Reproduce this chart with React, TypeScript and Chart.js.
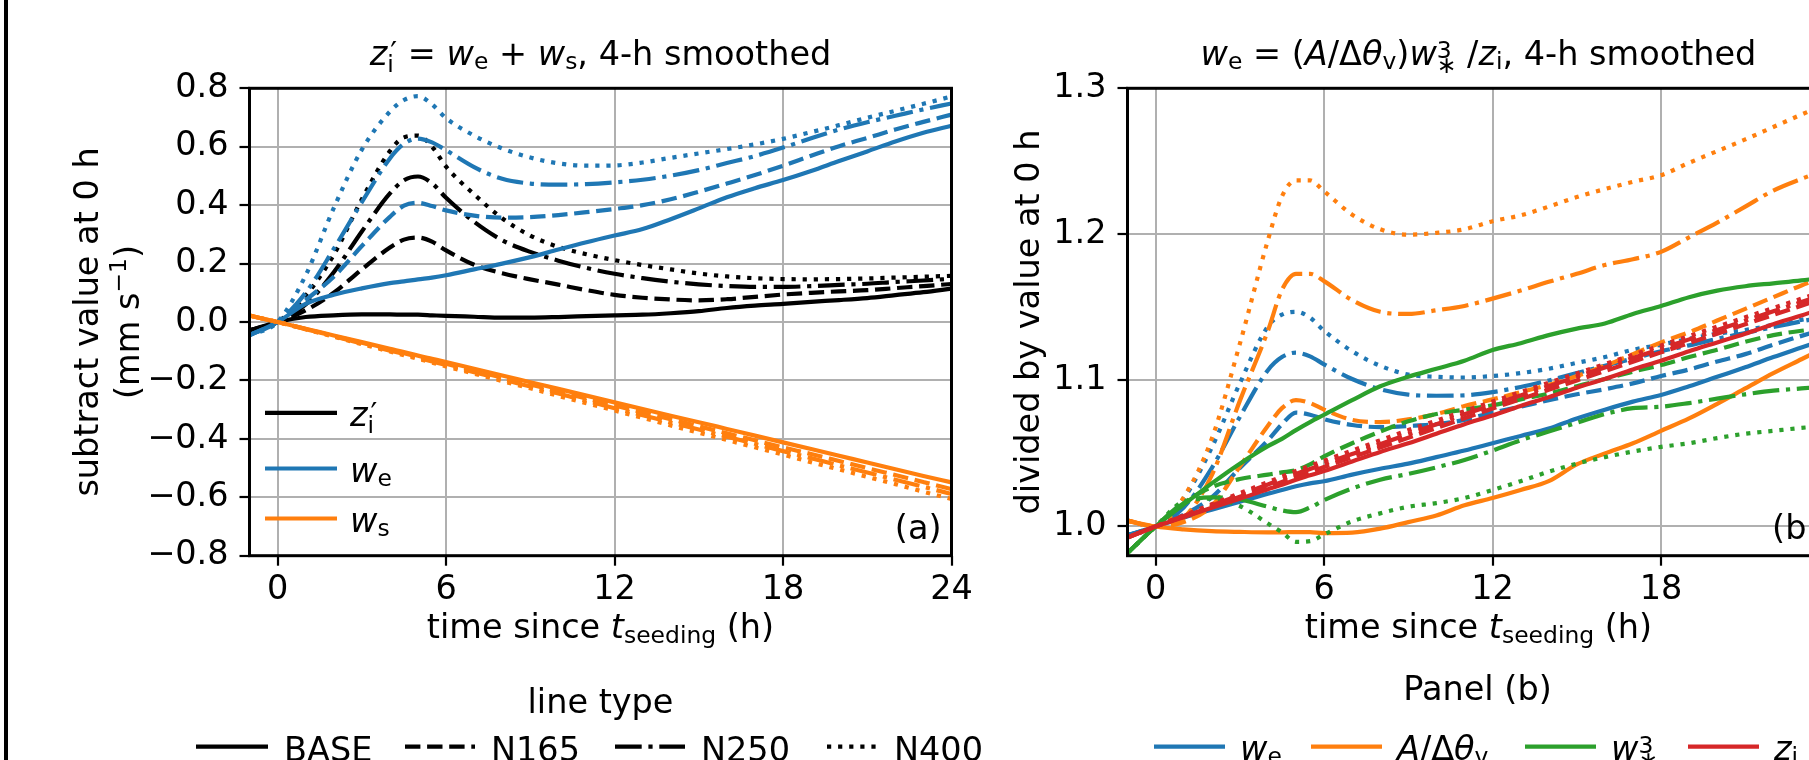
import React, { useEffect, useRef } from 'react';
import { Chart, registerables } from 'chart.js';

Chart.register(...registerables);

// ---------------- data ----------------
const T = [-1, 0, 1, 2, 3, 4, 4.5, 5, 5.5, 6, 7, 8, 9, 10, 11, 12, 13, 14, 15, 16, 17, 18, 19, 20, 21, 22, 23, 24];

const X_TICKS = [0, 6, 12, 18, 24];
const YA_TICKS = [-0.8, -0.6, -0.4, -0.2, 0, 0.2, 0.4, 0.6, 0.8];
const YB_TICKS = [1.0, 1.1, 1.2, 1.3];
const CASES = ['BASE', 'N165', 'N250', 'N400'];

// panel (a): z_i'
const ZP_BASE = [-0.029, 0, 0.017, 0.023, 0.026, 0.026, 0.025, 0.025, 0.023, 0.021, 0.018, 0.015, 0.015, 0.017, 0.02, 0.023, 0.025, 0.03, 0.037, 0.048, 0.056, 0.062, 0.069, 0.075, 0.082, 0.092, 0.102, 0.114];
const ZP_N165 = [-0.029, 0, 0.04, 0.1, 0.18, 0.255, 0.282, 0.289, 0.275, 0.245, 0.196, 0.167, 0.146, 0.128, 0.109, 0.093, 0.083, 0.077, 0.074, 0.078, 0.086, 0.094, 0.1, 0.105, 0.109, 0.116, 0.123, 0.13];
const ZP_N250 = [-0.029, 0, 0.06, 0.17, 0.31, 0.44, 0.485, 0.498, 0.475, 0.425, 0.343, 0.28, 0.24, 0.21, 0.185, 0.165, 0.15, 0.138, 0.129, 0.123, 0.12, 0.12, 0.123, 0.127, 0.131, 0.137, 0.142, 0.148];
const ZP_N400 = [-0.029, 0, 0.09, 0.23, 0.42, 0.585, 0.632, 0.638, 0.6, 0.532, 0.437, 0.355, 0.296, 0.257, 0.232, 0.212, 0.195, 0.18, 0.166, 0.156, 0.15, 0.147, 0.146, 0.147, 0.149, 0.152, 0.155, 0.158];
// panel (a): w_e
const WEA_BASE = [-0.045, 0, 0.062, 0.093, 0.115, 0.133, 0.139, 0.146, 0.152, 0.16, 0.18, 0.2, 0.222, 0.248, 0.273, 0.296, 0.318, 0.352, 0.389, 0.427, 0.458, 0.486, 0.517, 0.551, 0.584, 0.618, 0.648, 0.672];
const WEA_N165 = [-0.045, 0, 0.075, 0.155, 0.26, 0.36, 0.398, 0.408, 0.397, 0.382, 0.364, 0.357, 0.359, 0.366, 0.376, 0.387, 0.4, 0.42, 0.446, 0.474, 0.503, 0.535, 0.569, 0.602, 0.63, 0.659, 0.685, 0.71];
const WEA_N250 = [-0.045, 0, 0.1, 0.25, 0.41, 0.56, 0.61, 0.628, 0.615, 0.588, 0.53, 0.49, 0.474, 0.47, 0.472, 0.478, 0.487, 0.501, 0.52, 0.544, 0.568, 0.597, 0.629, 0.659, 0.684, 0.706, 0.728, 0.748];
const WEA_N400 = [-0.045, 0, 0.16, 0.39, 0.59, 0.72, 0.76, 0.773, 0.745, 0.698, 0.638, 0.594, 0.563, 0.543, 0.535, 0.536, 0.546, 0.562, 0.577, 0.592, 0.608, 0.627, 0.65, 0.674, 0.699, 0.723, 0.747, 0.772];
// panel (a): w_s
const WS_BASE = [0.022, 0, -0.023, -0.046, -0.069, -0.092, -0.103, -0.115, -0.126, -0.137, -0.16, -0.183, -0.206, -0.229, -0.252, -0.275, -0.298, -0.321, -0.343, -0.366, -0.389, -0.412, -0.435, -0.458, -0.481, -0.504, -0.527, -0.549];
const WS_N165 = [0.022, 0, -0.024, -0.048, -0.071, -0.095, -0.107, -0.119, -0.131, -0.143, -0.167, -0.19, -0.214, -0.238, -0.262, -0.286, -0.309, -0.333, -0.357, -0.381, -0.405, -0.429, -0.452, -0.476, -0.5, -0.524, -0.548, -0.572];
const WS_N250 = [0.022, 0, -0.0245, -0.049, -0.074, -0.098, -0.11, -0.123, -0.135, -0.147, -0.172, -0.196, -0.221, -0.245, -0.27, -0.295, -0.319, -0.344, -0.368, -0.393, -0.417, -0.442, -0.466, -0.491, -0.515, -0.54, -0.564, -0.589];
const WS_N400 = [0.022, 0, -0.025, -0.05, -0.076, -0.101, -0.114, -0.126, -0.139, -0.152, -0.177, -0.202, -0.227, -0.253, -0.278, -0.303, -0.328, -0.354, -0.379, -0.404, -0.429, -0.454, -0.48, -0.505, -0.53, -0.555, -0.581, -0.606];

// panel (b): w_e
const WEB_BASE = [0.994, 1.0, 1.006, 1.0115, 1.017, 1.0225, 1.025, 1.0275, 1.0295, 1.031, 1.0355, 1.0395, 1.043, 1.0475, 1.052, 1.057, 1.062, 1.067, 1.074, 1.08, 1.0855, 1.09, 1.096, 1.1025, 1.109, 1.116, 1.1225, 1.129];
const WEB_N165 = [0.994, 1.0, 1.008, 1.02, 1.04, 1.059, 1.07, 1.078, 1.0765, 1.0735, 1.0695, 1.068, 1.0688, 1.07, 1.073, 1.078, 1.082, 1.0865, 1.0905, 1.094, 1.098, 1.103, 1.1075, 1.113, 1.118, 1.1245, 1.1305, 1.136];
const WEB_N250 = [0.994, 1.0, 1.013, 1.04, 1.075, 1.107, 1.116, 1.119, 1.1165, 1.111, 1.101, 1.094, 1.0903, 1.0895, 1.0898, 1.092, 1.0955, 1.1, 1.105, 1.11, 1.115, 1.12, 1.124, 1.1285, 1.1325, 1.1365, 1.1405, 1.144];
const WEB_N400 = [0.994, 1.0, 1.019, 1.054, 1.098, 1.137, 1.145, 1.147, 1.143, 1.134, 1.12, 1.11, 1.104, 1.1025, 1.102, 1.103, 1.105, 1.108, 1.112, 1.116, 1.121, 1.1245, 1.1285, 1.132, 1.1345, 1.138, 1.1415, 1.145];
// panel (b): A / delta theta_v
const ADT_BASE = [1.004, 1.0, 0.998, 0.9968, 0.9963, 0.996, 0.996, 0.9962, 0.9962, 0.9955, 0.9958, 0.9985, 1.003, 1.0075, 1.0145, 1.0195, 1.025, 1.031, 1.0425, 1.05, 1.057, 1.0655, 1.074, 1.084, 1.0945, 1.105, 1.1145, 1.124];
const ADT_N165 = [1.004, 1.0, 1.003, 1.014, 1.041, 1.069, 1.081, 1.0865, 1.0845, 1.08, 1.073, 1.0715, 1.0733, 1.077, 1.0825, 1.087, 1.092, 1.097, 1.103, 1.11, 1.118, 1.126, 1.133, 1.141, 1.149, 1.157, 1.165, 1.172];
const ADT_N250 = [1.004, 1.0, 1.006, 1.035, 1.086, 1.134, 1.162, 1.173, 1.173, 1.168, 1.155, 1.147, 1.1455, 1.148, 1.151, 1.156, 1.1615, 1.1675, 1.173, 1.179, 1.183, 1.188, 1.198, 1.208, 1.219, 1.23, 1.238, 1.245];
const ADT_N400 = [1.004, 1.0, 1.02, 1.06, 1.125, 1.196, 1.226, 1.237, 1.237, 1.2295, 1.2135, 1.2035, 1.1998, 1.201, 1.2035, 1.209, 1.213, 1.219, 1.2255, 1.231, 1.236, 1.2405, 1.249, 1.257, 1.265, 1.2735, 1.282, 1.29];
// panel (b): w_*^3
const W3_BASE = [0.9818, 1.0, 1.015, 1.0295, 1.043, 1.055, 1.06, 1.066, 1.0715, 1.0765, 1.0865, 1.096, 1.1025, 1.108, 1.1135, 1.1208, 1.1255, 1.131, 1.1355, 1.139, 1.1455, 1.151, 1.157, 1.1615, 1.1645, 1.1665, 1.1685, 1.171];
const W3_N165 = [0.9818, 1.0, 1.016, 1.027, 1.0325, 1.0355, 1.037, 1.0385, 1.0425, 1.048, 1.057, 1.065, 1.072, 1.077, 1.08, 1.083, 1.087, 1.091, 1.096, 1.101, 1.106, 1.1105, 1.116, 1.121, 1.1265, 1.131, 1.134, 1.136];
const W3_N250 = [0.9818, 1.0, 1.016, 1.02, 1.0185, 1.0135, 1.011, 1.0098, 1.013, 1.018, 1.026, 1.032, 1.036, 1.0405, 1.0455, 1.052, 1.059, 1.065, 1.071, 1.077, 1.081, 1.082, 1.0845, 1.0875, 1.0905, 1.093, 1.0945, 1.096];
const W3_N400 = [0.9818, 1.0, 1.017, 1.019, 1.014, 1.002, 0.996, 0.9895, 0.99, 0.9945, 1.0035, 1.009, 1.0135, 1.016, 1.0195, 1.025, 1.031, 1.0375, 1.043, 1.0475, 1.0513, 1.0545, 1.057, 1.0605, 1.0635, 1.0655, 1.0675, 1.069];
// panel (b): z_i
const ZI_BASE = [0.9925, 1.0, 1.0064, 1.0128, 1.019, 1.0255, 1.0285, 1.032, 1.035, 1.038, 1.0445, 1.051, 1.057, 1.0635, 1.07, 1.076, 1.0825, 1.0885, 1.095, 1.101, 1.1075, 1.1135, 1.12, 1.126, 1.132, 1.1385, 1.1445, 1.151];
const ZI_N165 = [0.9925, 1.0, 1.0068, 1.0135, 1.0203, 1.027, 1.0305, 1.034, 1.0373, 1.0407, 1.0474, 1.0541, 1.0607, 1.0674, 1.0741, 1.0808, 1.0872, 1.0936, 1.1, 1.1064, 1.1128, 1.1192, 1.1256, 1.132, 1.1384, 1.1448, 1.1512, 1.1576];
const ZI_N250 = [0.9925, 1.0, 1.0072, 1.0144, 1.0216, 1.0288, 1.0324, 1.036, 1.0394, 1.0428, 1.0496, 1.0564, 1.0632, 1.07, 1.0768, 1.0833, 1.0897, 1.0961, 1.1025, 1.1089, 1.1153, 1.1217, 1.1281, 1.1345, 1.1409, 1.1473, 1.1537, 1.1601];
const ZI_N400 = [0.9925, 1.0, 1.0076, 1.0152, 1.0228, 1.0304, 1.0342, 1.038, 1.0415, 1.045, 1.052, 1.059, 1.066, 1.0725, 1.079, 1.0855, 1.092, 1.0984, 1.1048, 1.1112, 1.1176, 1.124, 1.1304, 1.1368, 1.1432, 1.1496, 1.156, 1.1624];

// ---------------- styles ----------------
const BLACK = '#000000';
const BLUE = '#1f77b4';
const ORANGE = '#ff7f0e';
const GREEN = '#2ca02c';
const RED = '#d62728';
const LW = 4.2;
const DASHES = [[], [15.4, 6.7], [26.7, 6.7, 4.2, 6.7], [4.2, 6.9]];
const FS = 33.5;
const FAMILY = '"DejaVu Sans"';
const TOP = 88.3;
const BOTTOM = 555.7;
const XH = 100;

type Seg = { t: string; it?: boolean; pos?: 'sub' | 'sup'; ov?: boolean; dy?: number; dx?: number; sc?: number };

function fontStr(size: number, it?: boolean) {
  return `${it ? 'italic ' : ''}${size}px ${FAMILY}`;
}

function drawRich(ctx: CanvasRenderingContext2D, segs: Seg[], x: number, y: number, align: 'left' | 'center' | 'right', size = FS) {
  const placed: { s: Seg; sx: number; sz: number; dy: number }[] = [];
  let cur = 0;
  let prevStart = 0;
  for (const s of segs) {
    const sz = size * (s.sc !== undefined ? s.sc : s.pos ? 0.7 : 1);
    ctx.font = fontStr(sz, s.it);
    const w = ctx.measureText(s.t).width;
    const sx = (s.ov ? prevStart : cur) + (s.dx || 0) * size;
    cur = Math.max(cur, sx + w);
    prevStart = sx;
    const dyEm = s.dy !== undefined ? s.dy : s.pos === 'sub' ? 0.13 : s.pos === 'sup' ? -0.3 : 0;
    placed.push({ s, sx, sz, dy: dyEm * size });
  }
  const x0 = align === 'left' ? x : align === 'center' ? x - cur / 2 : x - cur;
  ctx.textAlign = 'left';
  ctx.textBaseline = 'alphabetic';
  ctx.fillStyle = '#000';
  for (const p of placed) {
    ctx.font = fontStr(p.sz, p.s.it);
    ctx.fillText(p.s.t, x0 + p.sx, y + p.dy);
  }
  return cur;
}

function legLine(ctx: CanvasRenderingContext2D, x1: number, x2: number, y: number, color: string, dash: number[]) {
  ctx.save();
  ctx.strokeStyle = color;
  ctx.lineWidth = LW;
  ctx.lineCap = 'butt';
  ctx.setLineDash(dash);
  ctx.beginPath();
  ctx.moveTo(x1, y);
  ctx.lineTo(x2, y);
  ctx.stroke();
  ctx.restore();
}

const ZPRIME: Seg[] = [
  { t: 'z', it: true }, { t: 'i', pos: 'sub', dy: 0.21 }, { t: '′', ov: true, sc: 0.9, dy: -0.06, dx: 0.09 },
];
const TITLE_A: Seg[] = [
  ...ZPRIME,
  { t: ' = ' }, { t: 'w', it: true }, { t: 'e', pos: 'sub' }, { t: ' + ' }, { t: 'w', it: true }, { t: 's', pos: 'sub' },
  { t: ', 4-h smoothed' },
];
const TITLE_B: Seg[] = [
  { t: 'w', it: true }, { t: 'e', pos: 'sub' }, { t: ' = (' }, { t: 'A', it: true }, { t: '/Δ' }, { t: 'θ', it: true },
  { t: 'v', pos: 'sub' }, { t: ')' }, { t: 'w', it: true }, { t: '∗', pos: 'sub', dy: 0.25 }, { t: '3', pos: 'sup', ov: true, dy: -0.2 },
  { t: ' /' }, { t: 'z', it: true }, { t: 'i', pos: 'sub' }, { t: ', 4-h smoothed' },
];
const XLABEL: Seg[] = [{ t: 'time since ' }, { t: 't', it: true }, { t: 'seeding', pos: 'sub', dy: 0.15 }, { t: ' (h)' }];
const YLABEL_A1: Seg[] = [{ t: 'subtract value at 0 h' }];
const YLABEL_A2: Seg[] = [{ t: '(mm s' }, { t: '−1', pos: 'sup', dy: -0.38 }, { t: ')' }];
const YLABEL_B: Seg[] = [{ t: 'divided by value at 0 h' }];

const LEG_ZP: Seg[] = ZPRIME;
const LEG_WE: Seg[] = [{ t: 'w', it: true }, { t: 'e', pos: 'sub' }];
const LEG_WS: Seg[] = [{ t: 'w', it: true }, { t: 's', pos: 'sub' }];
const LEG_ADT: Seg[] = [{ t: 'A', it: true }, { t: '/Δ' }, { t: 'θ', it: true }, { t: 'v', pos: 'sub' }];
const LEG_W3: Seg[] = [{ t: 'w', it: true }, { t: '∗', pos: 'sub', dy: 0.25 }, { t: '3', pos: 'sup', ov: true, dy: -0.2 }];
const LEG_ZI: Seg[] = [{ t: 'z', it: true }, { t: 'i', pos: 'sub' }];

function frame(ctx: CanvasRenderingContext2D, a: any) {
  ctx.save();
  ctx.strokeStyle = '#000';
  ctx.lineWidth = 3;
  ctx.setLineDash([]);
  ctx.strokeRect(a.left, a.top, a.right - a.left, a.bottom - a.top);
  ctx.restore();
}

const decoA = {
  id: 'decoA',
  afterDraw(chart: any) {
    const ctx: CanvasRenderingContext2D = chart.ctx;
    const a = chart.chartArea;
    ctx.save();
    frame(ctx, a);
    const cx = (a.left + a.right) / 2;
    const cy = (a.top + a.bottom) / 2;
    drawRich(ctx, TITLE_A, cx, 65, 'center');
    drawRich(ctx, XLABEL, cx, 638, 'center');
    ctx.save(); ctx.translate(98, cy); ctx.rotate(-Math.PI / 2); drawRich(ctx, YLABEL_A1, 0, 0, 'center'); ctx.restore();
    ctx.save(); ctx.translate(139, cy); ctx.rotate(-Math.PI / 2); drawRich(ctx, YLABEL_A2, 0, 0, 'center'); ctx.restore();
    // in-plot legend
    const legs: [Seg[], string, number][] = [[LEG_ZP, BLACK, 426], [LEG_WE, BLUE, 481.7], [LEG_WS, ORANGE, 531.7]];
    for (const [segs, col, by] of legs) {
      legLine(ctx, 265, 337, by - 13.2, col, []);
      drawRich(ctx, segs, 350, by, 'left');
    }
    drawRich(ctx, [{ t: '(a)' }], a.right - 10, 539, 'right');
    // bottom legend
    drawRich(ctx, [{ t: 'line type' }], cx, 713, 'center');
    const tx = [284, 491, 701, 894];
    const hx = [196, 405, 615, 827];
    CASES.forEach((c, i) => {
      legLine(ctx, hx[i], i === 3 ? 882 : tx[i] - 16, 746.7, BLACK, DASHES[i]);
      drawRich(ctx, [{ t: c }], tx[i], 761, 'left');
    });
    // figure edge
    ctx.fillStyle = '#000';
    ctx.fillRect(4, 0, 4, 760);
    ctx.restore();
  },
};

const decoB = {
  id: 'decoB',
  afterDraw(chart: any) {
    const ctx: CanvasRenderingContext2D = chart.ctx;
    const a = chart.chartArea;
    ctx.save();
    frame(ctx, a);
    const cx = (a.left + a.right) / 2;
    const cy = (a.top + a.bottom) / 2;
    drawRich(ctx, TITLE_B, cx, 65, 'center');
    drawRich(ctx, XLABEL, cx, 638, 'center');
    ctx.save(); ctx.translate(38.5, cy); ctx.rotate(-Math.PI / 2); drawRich(ctx, YLABEL_B, 0, 0, 'center'); ctx.restore();
    drawRich(ctx, [{ t: '(b)' }], a.right - 10, 539, 'right');
    drawRich(ctx, [{ t: 'Panel (b)' }], cx - 1, 700, 'center');
    const items: [Seg[], string, number][] = [[LEG_WE, BLUE, 240], [LEG_ADT, ORANGE, 397], [LEG_W3, GREEN, 611], [LEG_ZI, RED, 774]];
    for (const [segs, col, x] of items) {
      legLine(ctx, x - 86, x - 15, 746.7, col, []);
      drawRich(ctx, segs, x, 760, 'left');
    }
    ctx.restore();
  },
};

function series(arrs: number[][], colors: string[]) {
  const out: any[] = [];
  arrs.forEach((arr, k) => {
    out.push({
      data: T.map((t, i) => ({ x: t, y: arr[i] })),
      borderColor: colors[k],
      borderWidth: LW,
      borderDash: DASHES[k % 4],
      pointRadius: 0,
      fill: false,
      cubicInterpolationMode: 'monotone',
      clip: 0,
    });
  });
  const n = out.length;
  out.forEach((d, i) => (d.order = n - i));
  return out;
}

const tickFont = { family: FAMILY, size: FS };
const gridCfg = { color: '#b0b0b0', lineWidth: 2, tickColor: '#000', tickWidth: 2.2, tickLength: 10, drawTicks: true };

function makeConfig(datasets: any[], ymin: number, ymax: number, yticks: number[], yWidth: number, padRight: number, plugin: any) {
  return {
    type: 'line' as const,
    data: { datasets },
    options: {
      animation: false,
      responsive: false,
      events: [],
      layout: { padding: { left: 0, right: padRight, top: TOP, bottom: 760 - BOTTOM - XH } },
      plugins: { legend: { display: false }, title: { display: false }, tooltip: { enabled: false } },
      scales: {
        x: {
          type: 'linear',
          min: -1,
          max: 24,
          afterBuildTicks: (s: any) => { s.ticks = X_TICKS.map((v) => ({ value: v })); },
          afterFit: (s: any) => { s.height = XH; },
          grid: gridCfg,
          border: { display: false },
          ticks: { font: tickFont, color: '#000', padding: 4, autoSkip: false, maxRotation: 0, minRotation: 0, callback: (v: any) => String(v) },
        },
        y: {
          type: 'linear',
          min: ymin,
          max: ymax,
          afterBuildTicks: (s: any) => { s.ticks = yticks.map((v) => ({ value: v })); },
          afterFit: (s: any) => { s.width = yWidth; },
          grid: gridCfg,
          border: { display: false },
          ticks: {
            font: tickFont, color: '#000', padding: 11, autoSkip: false,
            callback: (v: any) => Number(v).toFixed(1).replace('-', '\u2212'),
          },
        },
      },
    },
    plugins: [plugin],
  };
}

export default function App() {
  const refA = useRef<HTMLCanvasElement>(null);
  const refB = useRef<HTMLCanvasElement>(null);
  useEffect(() => {
    const allA = series(
      [ZP_BASE, ZP_N165, ZP_N250, ZP_N400, WEA_BASE, WEA_N165, WEA_N250, WEA_N400, WS_BASE, WS_N165, WS_N250, WS_N400],
      [BLACK, BLACK, BLACK, BLACK, BLUE, BLUE, BLUE, BLUE, ORANGE, ORANGE, ORANGE, ORANGE],
    );
    const allB = series(
      [WEB_BASE, WEB_N165, WEB_N250, WEB_N400, ADT_BASE, ADT_N165, ADT_N250, ADT_N400, W3_BASE, W3_N165, W3_N250, W3_N400, ZI_BASE, ZI_N165, ZI_N250, ZI_N400],
      [BLUE, BLUE, BLUE, BLUE, ORANGE, ORANGE, ORANGE, ORANGE, GREEN, GREEN, GREEN, GREEN, RED, RED, RED, RED],
    );
    const ca = new Chart(refA.current as HTMLCanvasElement, makeConfig(allA, -0.8, 0.8, YA_TICKS, 249.5, 1000 - 951.5, decoA) as any);
    const cb = new Chart(refB.current as HTMLCanvasElement, makeConfig(allB, 0.98, 1.3, YB_TICKS, 127.5, 1000 - 829.5, decoB) as any);
    return () => { ca.destroy(); cb.destroy(); };
  }, []);
  return (
    <div style={{ position: 'fixed', left: 0, top: 0, width: 1809, height: 760, overflow: 'hidden', background: '#fff' }}>
      <canvas ref={refA} width={1000} height={760} style={{ position: 'absolute', left: 0, top: 0, width: 1000, height: 760 }} />
      <canvas ref={refB} width={1000} height={760} style={{ position: 'absolute', left: 1000, top: 0, width: 1000, height: 760 }} />
    </div>
  );
}
